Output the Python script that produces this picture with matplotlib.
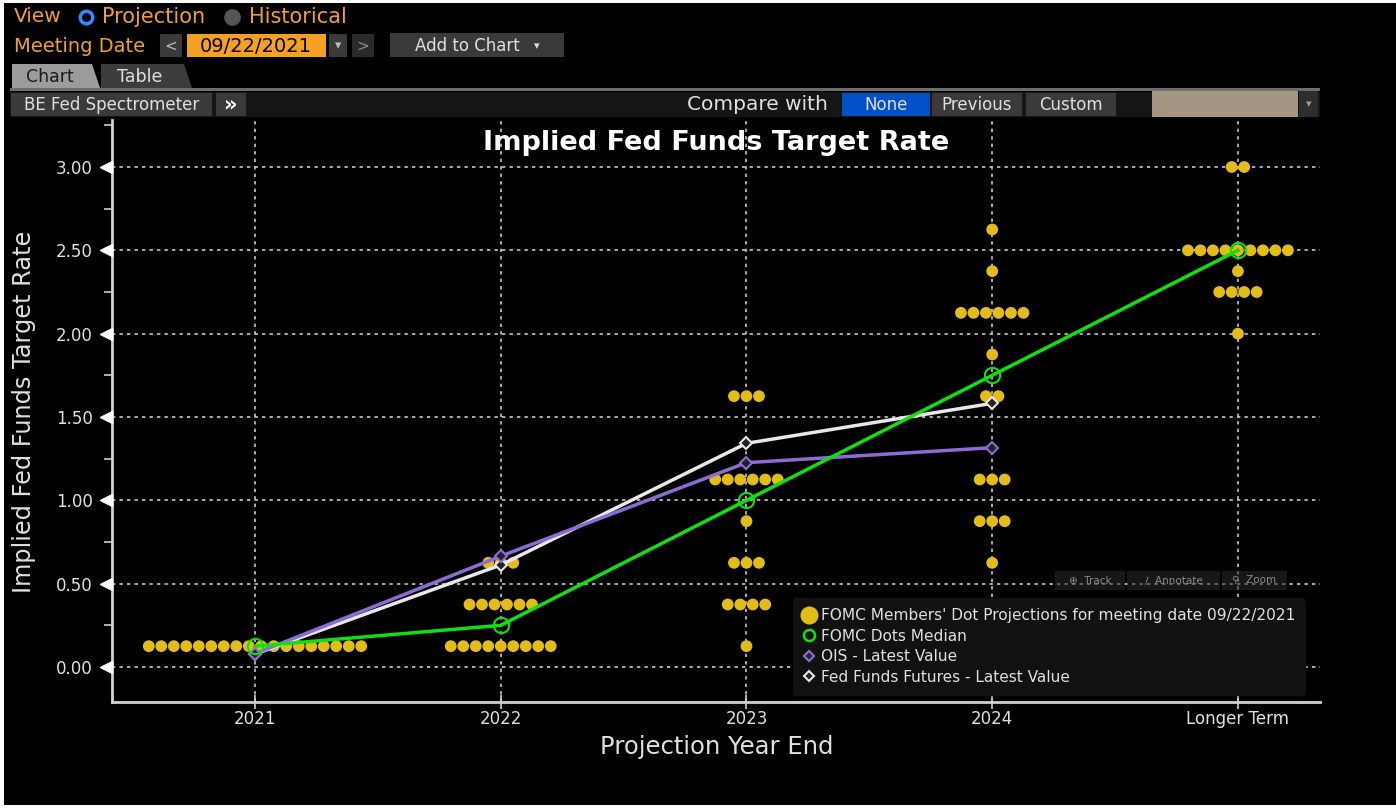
import matplotlib
matplotlib.use("Agg")
import matplotlib.pyplot as plt
from matplotlib.patches import Rectangle, Polygon
from matplotlib.lines import Line2D
import numpy as np

# ---------------- data ----------------
categories = ["2021", "2022", "2023", "2024", "Longer Term"]

dot_rates_2021 = [0.125]
dot_counts_2021 = [18]
dot_rates_2022 = [0.125, 0.375, 0.625]
dot_counts_2022 = [9, 6, 3]
dot_rates_2023 = [0.125, 0.375, 0.625, 0.875, 1.125, 1.625]
dot_counts_2023 = [1, 4, 3, 1, 6, 3]
dot_rates_2024 = [0.625, 0.875, 1.125, 1.625, 1.875, 2.125, 2.375, 2.625]
dot_counts_2024 = [1, 3, 3, 2, 1, 6, 1, 1]
dot_rates_lt = [2.0, 2.25, 2.375, 2.5, 3.0]
dot_counts_lt = [1, 4, 1, 9, 2]

median_dots = [0.125, 0.25, 1.0, 1.75, 2.5]
ois_latest = [0.08, 0.665, 1.226, 1.316]
ff_futures_latest = [0.078, 0.612, 1.342, 1.582]

yticks = [0.0, 0.5, 1.0, 1.5, 2.0, 2.5, 3.0]
ytick_labels = ["0.00", "0.50", "1.00", "1.50", "2.00", "2.50", "3.00"]

# ---------------- figure ----------------
W, H = 1396, 808
fig = plt.figure(figsize=(W / 100, H / 100), dpi=100)
fig.patch.set_facecolor("white")

def fx(x):
    return x / W

def fy(y):
    return 1 - y / H

def box(x0, y0, x1, y1, color, z=1, **kw):
    fig.patches.append(Rectangle((fx(x0), fy(y1)), fx(x1) - fx(x0), fy(y0) - fy(y1),
                                 transform=fig.transFigure, facecolor=color,
                                 edgecolor="none", zorder=z, **kw))

# black background panel
box(4, 3, W, 805, "black", z=-5)

ORANGE = "#f0a030"
LIGHT = "#e0e0e0"
BTN = "#3a3a3a"
FONT = ["DejaVu Sans"]

# header line 1
fig.text(fx(14), fy(17), "View", color=ORANGE, fontsize=14.5, va="center", ha="left", family=FONT)
fig.add_artist(Line2D([fx(86)], [fy(17)], marker="o", ms=9, mfc="black", mec="#2f8cff", mew=2.5,
                      transform=fig.transFigure))
fig.text(fx(102), fy(17), "Projection", color=ORANGE, fontsize=15, va="center", ha="left", family=FONT)
fig.add_artist(Line2D([fx(232)], [fy(17)], marker="o", ms=11, mfc="#555555", mec="#555555",
                      transform=fig.transFigure))
fig.text(fx(249), fy(17), "Historical", color=ORANGE, fontsize=15, va="center", ha="left", family=FONT)

# header line 2
fig.text(fx(14), fy(46), "Meeting Date", color=ORANGE, fontsize=14, va="center", ha="left", family=FONT)
box(160, 34, 182, 57, BTN)
fig.text(fx(171), fy(46), "<", color="#bbbbbb", fontsize=11, va="center", ha="center", family=FONT)
box(187, 34, 326, 57, "#f5a020")
fig.text(fx(256), fy(46), "09/22/2021", color="black", fontsize=14, va="center", ha="center", family=FONT)
box(329, 34, 347, 57, BTN)
fig.text(fx(338), fy(46), "▾", color="#bbbbbb", fontsize=9, va="center", ha="center", family=FONT)
box(352, 34, 374, 57, "#2a2a2a")
fig.text(fx(363), fy(46), ">", color="#888888", fontsize=11, va="center", ha="center", family=FONT)
box(390, 33, 564, 57, BTN)
fig.text(fx(467), fy(46), "Add to Chart", color=LIGHT, fontsize=12, va="center", ha="center", family=FONT)
fig.text(fx(537), fy(46), "▾", color=LIGHT, fontsize=8, va="center", ha="center", family=FONT)

# tabs
fig.patches.append(Polygon([(fx(12), fy(88)), (fx(12), fy(64)), (fx(92), fy(64)), (fx(100), fy(88))],
                           closed=True, transform=fig.transFigure, facecolor="#9c9c9c", edgecolor="none"))
fig.text(fx(50), fy(77), "Chart", color="#1a1a1a", fontsize=12.5, va="center", ha="center", family=FONT)
fig.patches.append(Polygon([(fx(101), fy(88)), (fx(101), fy(64)), (fx(184), fy(64)), (fx(192), fy(88))],
                           closed=True, transform=fig.transFigure, facecolor="#3c3c3c", edgecolor="none"))
fig.text(fx(140), fy(77), "Table", color=LIGHT, fontsize=12.5, va="center", ha="center", family=FONT)
box(10, 88, 1320, 91, "#6e6e6e")

# toolbar
box(10, 92, 1320, 117, "#151515")
box(11, 93, 212, 116, BTN)
fig.text(fx(112), fy(104.5), "BE Fed Spectrometer", color=LIGHT, fontsize=12, va="center", ha="center", family=FONT)
box(216, 93, 246, 116, BTN)
fig.text(fx(231), fy(104.5), "»", color="white", fontsize=15, weight="bold", va="center", ha="center", family=FONT)
fig.text(fx(828), fy(104.5), "Compare with", color=LIGHT, fontsize=14.5, va="center", ha="right", family=FONT)
box(842, 93, 930, 116, "#0050c8")
fig.text(fx(886), fy(104.5), "None", color=LIGHT, fontsize=12, va="center", ha="center", family=FONT)
box(932, 93, 1022, 116, BTN)
fig.text(fx(977), fy(104.5), "Previous", color=LIGHT, fontsize=12, va="center", ha="center", family=FONT)
box(1026, 93, 1116, 116, BTN)
fig.text(fx(1071), fy(104.5), "Custom", color=LIGHT, fontsize=12, va="center", ha="center", family=FONT)
box(1152, 91, 1298, 117, "#a59584")
box(1299, 91, 1318, 117, "#2e2e2e")
fig.text(fx(1308.5), fy(104), "▾", color="#999999", fontsize=8, va="center", ha="center", family=FONT)

# ---------------- axes ----------------
ax = fig.add_axes([fx(112), fy(702), fx(1320) - fx(112), fy(120) - fy(702)])
ax.set_zorder(2)
ax.set_facecolor("black")
ax.set_xlim(-0.582, 4.334)
ax.set_ylim(-0.21, 3.282)

GRID = "#c8c8c8"
for s in ["top", "right"]:
    ax.spines[s].set_visible(False)
for s in ["left", "bottom"]:
    ax.spines[s].set_color("#d0d0d0")
    ax.spines[s].set_linewidth(2)

xs = np.arange(len(categories))
ax.set_xticks(xs)
ax.set_xticklabels(categories, color=LIGHT, fontsize=12, family=FONT)
ax.tick_params(axis="x", direction="inout", length=10, width=1.2, color="#d0d0d0", pad=1)
ax.set_yticks(yticks)
ax.set_yticklabels(ytick_labels, color=LIGHT, fontsize=12, family=FONT)
ax.tick_params(axis="y", which="major", length=12, width=0, pad=2)
ax.set_yticks(np.arange(0.25, 3.3, 0.5), minor=True)
ax.tick_params(axis="y", which="minor", direction="out", length=6, width=1.2, color="#d0d0d0")

# triangle major y ticks
ax.plot(np.full(len(yticks), -0.005), yticks, ls="none", marker="<", ms=9, color="white",
        mec="white", transform=ax.get_yaxis_transform(), clip_on=False, zorder=6)

for y in yticks:
    ax.axhline(y, color=GRID, lw=1.2, ls=(0, (2, 2.5)), zorder=1)
for x in xs:
    ax.axvline(x, color=GRID, lw=1.2, ls=(0, (2, 2.5)), zorder=1)

# dots
spacing = 12.5 / 245.75
all_rates = [dot_rates_2021, dot_rates_2022, dot_rates_2023, dot_rates_2024, dot_rates_lt]
all_counts = [dot_counts_2021, dot_counts_2022, dot_counts_2023, dot_counts_2024, dot_counts_lt]
DOT = "#e3bd17"
for i, (rates, counts) in enumerate(zip(all_rates, all_counts)):
    px, py = [], []
    for r, c in zip(rates, counts):
        offs = (np.arange(c) - (c - 1) / 2) * spacing
        px.extend(i + offs)
        py.extend([r] * c)
    ax.scatter(px, py, s=72, color=DOT, edgecolors="none", zorder=3)

WHITE_L = "#e8e8e8"
PURPLE = "#8c6cd4"
GREEN = "#10e010"
ax.plot(xs[:4], ff_futures_latest, color=WHITE_L, lw=2.5, marker="D", ms=6, mfc="#222222",
        mec=WHITE_L, mew=1.5, zorder=4)
ax.plot(xs[:4], ois_latest, color=PURPLE, lw=2.5, marker="D", ms=6, mfc="#222222",
        mec=PURPLE, mew=1.5, zorder=5)
ax.plot(xs, median_dots, color=GREEN, lw=2.5, marker="o", ms=11, mfc="none",
        mec=GREEN, mew=1.5, zorder=6)

ax.text(0.5, 0.961, "Implied Fed Funds Target Rate", transform=ax.transAxes, ha="center", va="center",
        color="white", fontsize=19.5, weight="bold", family=FONT, zorder=7)

fig.text(fx(24), fy(412), "Implied Fed Funds Target Rate", rotation=90, color=LIGHT, fontsize=17.3,
         ha="center", va="center", family=FONT)
fig.text(fx(717), fy(747), "Projection Year End", color=LIGHT, fontsize=17.5,
         ha="center", va="center", family=FONT)

# track / annotate / zoom toolbar
for (x0, x1, lab) in [(1055, 1125, "⊕  Track"), (1127, 1220, "∕  Annotate"), (1222, 1287, "⚲  Zoom")]:
    box(x0, 571, x1, 590, "#2a2a2a", z=5, alpha=0.55)
    fig.text(fx((x0 + x1) / 2), fy(580.5), lab, color="#8a8a8a", fontsize=7.5, ha="center", va="center",
             family=FONT, zorder=6)

# legend
handles = [
    Line2D([], [], ls="none", marker="o", ms=13, color=DOT, mec="none"),
    Line2D([], [], ls="none", marker="o", ms=8, mfc="none", mec=GREEN, mew=1.8),
    Line2D([], [], ls="none", marker="D", ms=5.5, mfc="#222222", mec=PURPLE, mew=1.5),
    Line2D([], [], ls="none", marker="D", ms=5.5, mfc="#222222", mec=WHITE_L, mew=1.5),
]
labels = ["FOMC Members' Dot Projections for meeting date 09/22/2021", "FOMC Dots Median",
          "OIS - Latest Value", "Fed Funds Futures - Latest Value"]
leg = ax.legend(handles, labels, loc="upper left", bbox_to_anchor=(fx(793), fy(598)),
                bbox_transform=fig.transFigure, frameon=True, fancybox=True, facecolor="#111111",
                edgecolor="#111111", framealpha=1, labelcolor=LIGHT,
                handlelength=0.8, handletextpad=0.35, labelspacing=0.36, borderpad=0.65,
                borderaxespad=0, prop={"family": FONT, "size": 11.1})
leg.set_zorder(8)

fig.savefig("out.png", dpi=100, facecolor=fig.get_facecolor())
